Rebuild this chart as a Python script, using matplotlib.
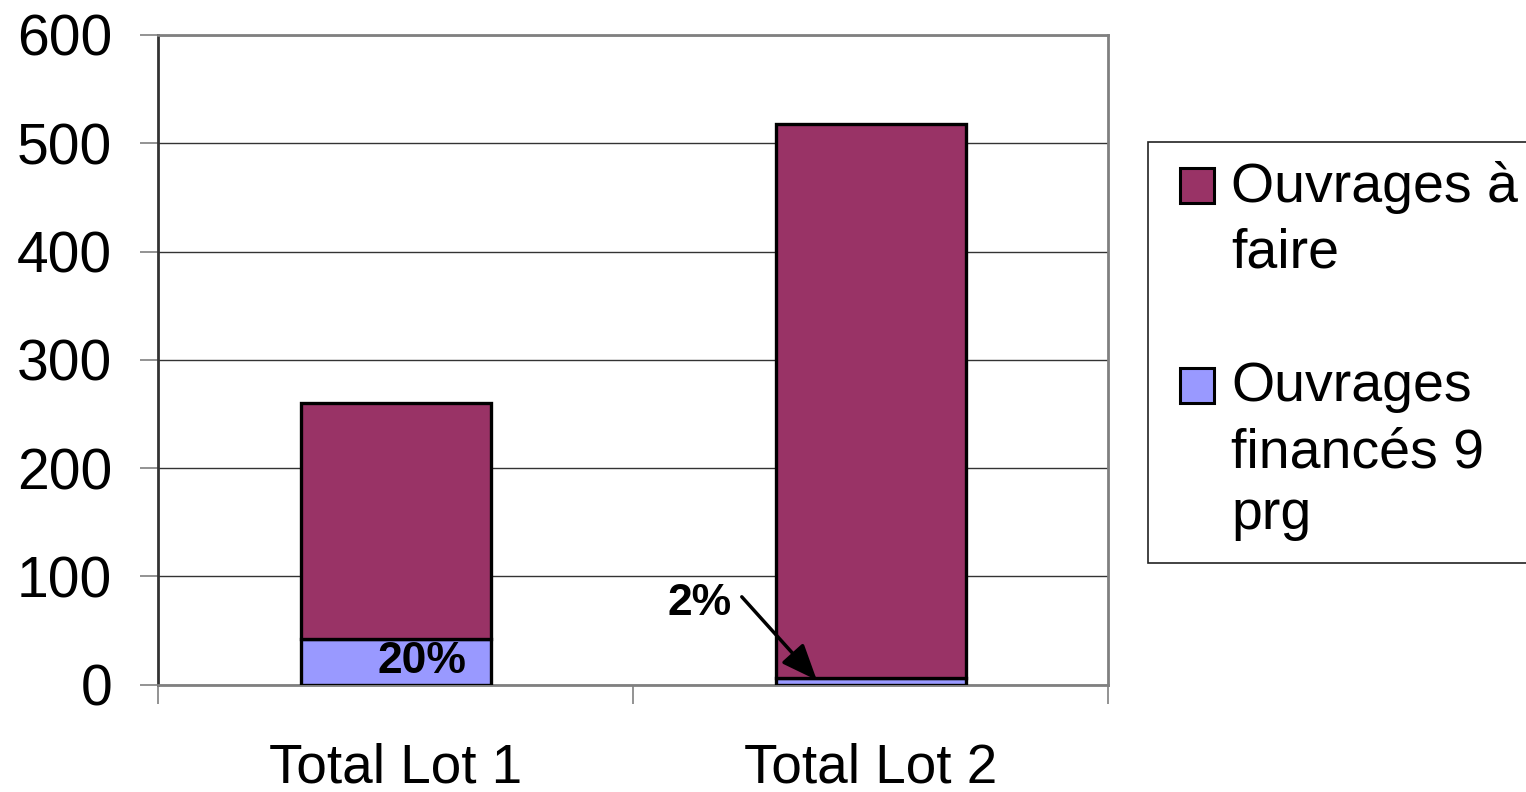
import matplotlib
matplotlib.use("Agg")
import matplotlib.pyplot as plt
from matplotlib.patches import Rectangle

plt.rcParams['font.family'] = ['Liberation Sans', 'DejaVu Sans']

categories = ["Total Lot 1", "Total Lot 2"]
finances = [42, 6]
a_faire = [218, 512]
series_labels = [["Ouvrages à", "faire"], ["Ouvrages", "financés 9", "prg"]]
pct_labels = ["20%", "2%"]
colors = ["#993366", "#9999FF"]

W, H = 1526, 792
fig = plt.figure(figsize=(W/100, H/100), dpi=100)
ax = fig.add_axes([158/W, 1-684.5/H, (1108-158)/W, (684.5-35)/H])

def fx(px):
    return px / W

def fy(py):
    return 1 - py / H

x = list(range(len(categories)))
ax.bar(x, finances, width=0.4, color=colors[1], edgecolor="black", linewidth=2.4, zorder=3)
ax.bar(x, a_faire, width=0.4, bottom=finances, color=colors[0], edgecolor="black", linewidth=2.4, zorder=3)

ax.set_xlim(-0.5, 1.5)
ax.set_ylim(0, 600)
ax.set_yticks(range(0, 601, 100))
ax.yaxis.grid(True, color="#333333", linewidth=1.0, zorder=0)
ax.set_axisbelow(True)

ax.set_xticks(x)
ax.set_xticklabels(categories, fontsize=39.5)
ax.set_xticks([-0.5, 0.5, 1.5], minor=True)
ax.tick_params(axis="x", which="major", length=0, pad=42)
ax.tick_params(axis="x", which="minor", length=14, width=1.2, color="#808080", direction="out")
ax.tick_params(axis="y", labelsize=41, length=13, width=1.2, color="#808080", pad=20)

for side in ["top", "right", "bottom"]:
    ax.spines[side].set_color("#808080")
    ax.spines[side].set_linewidth(2)
ax.spines["left"].set_color("#333333")
ax.spines["left"].set_linewidth(2)

ax.text(0.055, 21.5, pct_labels[0], fontsize=32, fontweight="bold", ha="center", va="center", zorder=5)
ax.text(0.641, 75, pct_labels[1], fontsize=32, fontweight="bold", ha="center", va="center", zorder=5)
ax.annotate("", xy=(0.887, 4), xytext=(0.729, 81),
            arrowprops=dict(arrowstyle="-|>,head_length=2.2,head_width=0.9", color="black",
                            lw=2.5, shrinkA=0, shrinkB=0), zorder=5)

# legend (drawn manually to match the multi-line layout)
fig.add_artist(Rectangle((fx(1148), fy(563)), fx(1530) - fx(1148), fy(142) - fy(563),
                         transform=fig.transFigure, facecolor="white", edgecolor="#222222",
                         linewidth=1.2, zorder=1))
handle_tops = [168, 368]
text_baselines = [[202, 268], [401, 467, 529]]
for i in range(2):
    top = handle_tops[i]
    fig.add_artist(Rectangle((fx(1180), fy(top + 35)), fx(1214) - fx(1180), fy(top) - fy(top + 35),
                             transform=fig.transFigure, facecolor=colors[i], edgecolor="black",
                             linewidth=2.2, zorder=2))
    for line, base in zip(series_labels[i], text_baselines[i]):
        fig.text(fx(1231), fy(base), line, fontsize=40, ha="left", va="baseline", zorder=3)

fig.savefig("out.png", dpi=100)
